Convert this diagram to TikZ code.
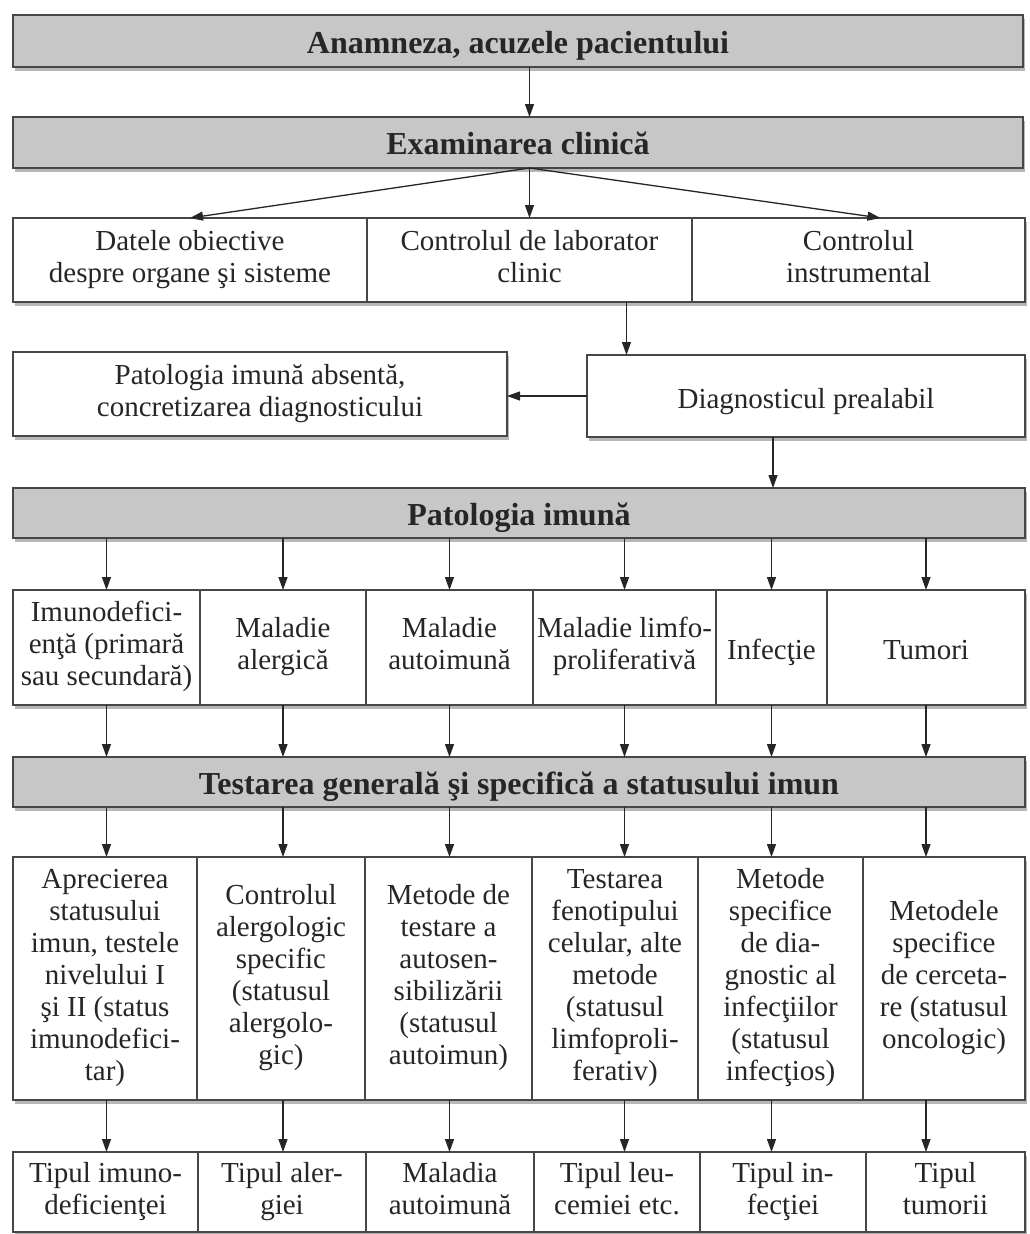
\documentclass[tikz,border=0pt]{standalone}
\usepackage{fontspec}
\setmainfont{Liberation Serif}
\usetikzlibrary{arrows.meta,shadows}
\begin{document}
\begin{tikzpicture}[x=1pt,y=-1pt,
  every node/.style={inner sep=0pt, outer sep=0pt},
  box/.style={draw=black!72, line width=1.7pt, fill=white, anchor=north west,
    align=center, text=black!85, font=\fontsize{29}{32}\selectfont,
    execute at begin node={\rule{0pt}{32pt}},
    execute at end node={\rule[-8pt]{0pt}{8pt}},
    drop shadow={shadow xshift=2pt, shadow yshift=-4pt, fill=black!40, opacity=0.7}},
  bar/.style={box, fill=black!22, font=\bfseries\fontsize{32}{34}\selectfont},
  arr/.style={draw=black!85, line width=1.3pt, -{Triangle[length=13pt,width=9pt]}}
]
\useasboundingbox[fill=white] (0,0) rectangle (1029,1234);

% top of the scheme
\node[bar, minimum width=1010pt, minimum height=52pt] (A) at (13,15) {Anamneza, acuzele pacientului};
\node[bar, minimum width=1010pt, minimum height=51pt] (B) at (13,117) {Examinarea clinică};

\node[box, minimum width=354pt, minimum height=84pt] (c1) at (13,218) {Datele obiective\\despre organe şi sisteme};
\node[box, minimum width=325pt, minimum height=84pt] (c2) at (367,218) {Controlul de laborator\\clinic};
\node[box, minimum width=333pt, minimum height=84pt] (c3) at (692,218) {Controlul\\instrumental};

\node[box, minimum width=494pt, minimum height=84pt] (absent) at (13,352) {Patologia imună absentă,\\concretizarea diagnosticului};
\node[box, minimum width=438pt, minimum height=82pt] (diag) at (587,355) {Diagnosticul prealabil};

\node[bar, minimum width=1012pt, minimum height=50pt] (E) at (13,488) {Patologia imună};

% kinds of immune pathology
\node[box, minimum width=187pt, minimum height=115pt] (f1) at (13,590) {Imunodefici-\\enţă (primară\\sau secundară)};
\node[box, minimum width=166pt, minimum height=115pt] (f2) at (200,590) {Maladie\\alergică};
\node[box, minimum width=167pt, minimum height=115pt] (f3) at (366,590) {Maladie\\autoimună};
\node[box, minimum width=183pt, minimum height=115pt] (f4) at (533,590) {Maladie limfo-\\proliferativă};
\node[box, minimum width=111pt, minimum height=115pt] (f5) at (716,590) {Infecţie};
\node[box, minimum width=198pt, minimum height=115pt] (f6) at (827,590) {Tumori};

\node[bar, minimum width=1012pt, minimum height=50pt] (G) at (13,757) {Testarea generală şi specifică a statusului imun};

% testing methods
\node[box, minimum width=184pt, minimum height=243pt] (h1) at (13,857) {Aprecierea\\statusului\\imun, testele\\nivelului I\\şi II (status\\imunodefici-\\tar)};
\node[box, minimum width=168pt, minimum height=243pt] (h2) at (197,857) {Controlul\\alergologic\\specific\\(statusul\\alergolo-\\gic)};
\node[box, minimum width=167pt, minimum height=243pt] (h3) at (365,857) {Metode de\\testare a\\autosen-\\sibilizării\\(statusul\\autoimun)};
\node[box, minimum width=166pt, minimum height=243pt] (h4) at (532,857) {Testarea\\fenotipului\\celular, alte\\metode\\(statusul\\limfoproli-\\ferativ)};
\node[box, minimum width=165pt, minimum height=243pt] (h5) at (698,857) {Metode\\specifice\\de dia-\\gnostic al\\infecţiilor\\(statusul\\infecţios)};
\node[box, minimum width=162pt, minimum height=243pt] (h6) at (863,857) {Metodele\\specifice\\de cerceta-\\re (statusul\\oncologic)};

% results
\node[box, minimum width=185pt, minimum height=80pt] (l1) at (13,1152) {Tipul imuno-\\deficienţei};
\node[box, minimum width=168pt, minimum height=80pt] (l2) at (198,1152) {Tipul aler-\\giei};
\node[box, minimum width=168pt, minimum height=80pt] (l3) at (366,1152) {Maladia\\autoimună};
\node[box, minimum width=166pt, minimum height=80pt] (l4) at (534,1152) {Tipul leu-\\cemiei etc.};
\node[box, minimum width=166pt, minimum height=80pt] (l5) at (700,1152) {Tipul in-\\fecţiei};
\node[box, minimum width=159pt, minimum height=80pt] (l6) at (866,1152) {Tipul\\tumorii};

% connectors
\draw[arr] (A.south -| c2.north) -- (B.north -| c2.north);
\draw[arr] (B.south -| c2.north) -- (c1.north);
\draw[arr] (B.south -| c2.north) -- (c2.north);
\draw[arr] (B.south -| c2.north) -- ([xshift=22pt]c3.north);
\draw[arr] ([xshift=97pt]c2.south) -- ([xshift=97pt]c2.south |- diag.north);
\draw[arr] (diag.west) -- (diag.west -| absent.east);
\draw[arr] ([xshift=-33pt]diag.south) -- ([xshift=-33pt]diag.south |- E.north);
\foreach \i in {1,...,6} {
  \draw[arr] (E.south -| f\i.north) -- (f\i.north);
  \draw[arr] (f\i.south) -- (G.north -| f\i.south);
  \draw[arr] (G.south -| f\i.south) -- (h\i.north -| f\i.south);
  \draw[arr] (h\i.south -| f\i.south) -- (l\i.north -| f\i.south);
}
\end{tikzpicture}
\end{document}
